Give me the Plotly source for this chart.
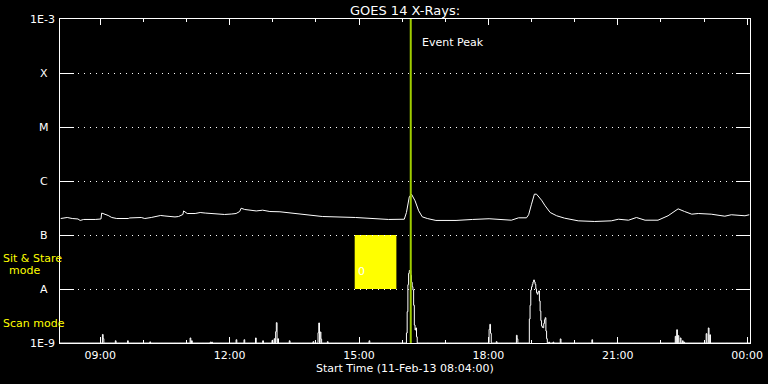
import math
import pandas as pd
import plotly.graph_objects as go

# ---------------- data ----------------
DAY = "2013-02-11"
NEXT_DAY = "2013-02-12"

goes_times = ["08:05", "08:14", "08:21", "08:29", "08:32", "08:37", "08:53", "09:01", "09:02", "09:07",
              "09:11", "09:16", "09:23", "09:39", "09:41", "09:57", "10:02", "10:11", "10:16", "10:24",
              "10:30", "10:38", "10:44", "10:49", "10:55", "10:56", "11:01", "11:12", "11:19", "11:26",
              "11:37", "11:46", "11:53", "12:03", "12:09", "12:14", "12:16", "12:21", "12:28", "12:37",
              "12:46", "12:56", "13:10", "13:24", "13:46", "14:09", "14:55", "15:41", "16:03", "16:06",
              "16:10", "16:13", "16:18", "16:23", "16:28", "16:35", "16:47", "17:15", "17:38", "18:01",
              "18:32", "18:42", "18:53", "18:56", "19:00", "19:04", "19:07", "19:14", "19:19", "19:26",
              "19:35", "19:46", "20:05", "20:28", "20:51", "21:01", "21:15", "21:26", "21:38", "21:56",
              "22:10", "22:19", "22:24", "22:33", "22:43", "22:52", "23:10", "23:29", "23:38", "23:57",
              "00:03"]
goes_flux = [2.02e-7, 2.11e-7, 2.02e-7, 1.98e-7, 1.86e-7, 1.94e-7, 1.94e-7, 1.98e-7, 2.55e-7, 2.45e-7,
             2.30e-7, 2.11e-7, 2.02e-7, 2.02e-7, 2.07e-7, 2.11e-7, 2.02e-7, 2.11e-7, 2.20e-7, 2.30e-7,
             2.25e-7, 2.20e-7, 2.16e-7, 2.20e-7, 2.40e-7, 2.79e-7, 2.50e-7, 2.50e-7, 2.61e-7, 2.55e-7,
             2.50e-7, 2.40e-7, 2.40e-7, 2.45e-7, 2.50e-7, 2.72e-7, 3.13e-7, 2.97e-7, 2.90e-7, 2.79e-7,
             2.88e-7, 2.72e-7, 2.69e-7, 2.58e-7, 2.43e-7, 2.20e-7, 2.11e-7, 1.94e-7, 1.96e-7, 2.61e-7,
             5.10e-7, 5.70e-7, 4.30e-7, 2.81e-7, 2.17e-7, 2.02e-7, 1.86e-7, 1.86e-7, 1.94e-7, 2.00e-7,
             1.88e-7, 2.08e-7, 2.08e-7, 2.37e-7, 3.72e-7, 5.70e-7, 5.70e-7, 4.41e-7, 3.47e-7, 2.61e-7,
             2.27e-7, 2.05e-7, 1.83e-7, 1.78e-7, 1.83e-7, 1.96e-7, 1.88e-7, 2.11e-7, 1.88e-7, 1.88e-7,
             2.27e-7, 2.81e-7, 3.05e-7, 2.72e-7, 2.43e-7, 2.50e-7, 2.43e-7, 2.23e-7, 2.37e-7, 2.27e-7,
             2.37e-7]

scan_times = ["09:03", "09:04", "09:21", "09:38", "10:09", "11:05", "11:07", "11:33", "11:35", "12:09",
              "12:20", "12:36", "12:46", "12:59", "13:02", "13:04", "13:05", "13:07", "13:23", "13:56",
              "14:03", "14:04", "14:06", "14:07", "14:16", "15:14", "16:06", "16:07", "16:08", "16:09",
              "16:10", "16:11", "16:12", "16:13", "16:14", "16:15", "16:16", "16:17", "16:18", "16:19",
              "16:20", "18:01", "18:02", "18:03", "18:11", "18:39", "18:40", "18:57", "18:58", "18:59",
              "19:00", "19:01", "19:02", "19:03", "19:04", "19:05", "19:06", "19:07", "19:08", "19:09",
              "19:10", "19:11", "19:12", "19:13", "19:14", "19:15", "19:16", "19:17", "19:18", "19:19",
              "19:20", "19:21", "19:24", "19:30", "19:40", "20:24", "22:20", "22:22", "22:24", "22:27",
              "22:30", "22:32", "23:03", "23:06", "23:08"]
scan_flux = [1.44e-9, 1.20e-9, 1.10e-9, 1.10e-9, 1.05e-9, 1.24e-9, 1.10e-9, 1.04e-9, 1.04e-9, 1.15e-9,
             1.15e-9, 1.24e-9, 1.10e-9, 1.12e-9, 1.20e-9, 1.62e-9, 2.38e-9, 1.20e-9, 1.10e-9, 1.06e-9,
             1.55e-9, 2.35e-9, 1.60e-9, 1.18e-9, 1.06e-9, 1.10e-9, 1.53e-9, 3.80e-9, 1.20e-8, 1.95e-8,
             2.20e-8, 2.20e-8, 1.80e-8, 1.33e-8, 1.10e-8, 9.60e-9, 5.00e-9, 2.15e-9, 1.74e-9, 1.90e-9,
             1.30e-9, 1.79e-9, 2.22e-9, 1.51e-9, 1.06e-9, 1.39e-9, 1.19e-9, 2.78e-9, 5.00e-9, 9.60e-9,
             1.10e-8, 1.22e-8, 1.35e-8, 1.47e-8, 1.35e-8, 1.22e-8, 1.00e-8, 8.50e-9, 8.00e-9, 8.80e-9,
             9.20e-9, 6.00e-9, 3.90e-9, 2.60e-9, 2.07e-9, 1.95e-9, 1.92e-9, 2.30e-9, 2.70e-9, 2.94e-9,
             1.67e-9, 1.20e-9, 1.04e-9, 1.04e-9, 1.19e-9, 1.15e-9, 1.33e-9, 1.76e-9, 1.37e-9, 1.24e-9,
             1.10e-9, 1.04e-9, 1.49e-9, 1.90e-9, 1.42e-9]
scan_floor = 1e-9

y_tick_vals = [1e-9, 1e-8, 1e-7, 1e-6, 1e-5, 1e-4, 1e-3]
y_tick_text = ["1E-9", "A", "B", "C", "M", "X", "1E-3"]

x_start, x_end = "08:04", "00:04"
event_peak_time = "16:12"
sitstare_times = ["14:54", "15:52"]
sitstare_flux = [1e-8, 1e-7]


def ts(hm):
    h = int(hm[:2])
    d = DAY if h >= 8 else NEXT_DAY
    return pd.Timestamp(f"{d} {hm}")


# ---------------- figure ----------------
WHITE = "#ffffff"
YELLOW = "#ffff00"
GREEN = "#9fcd00"
FONT = "DejaVu Sans"

fig = go.Figure()

# scan-mode trace on a 1-minute grid resting on the floor
grid = pd.date_range(ts(x_start), ts(x_end), freq="1min")
scan = pd.Series(scan_floor, index=grid)
for t, v in zip(scan_times, scan_flux):
    scan[ts(t)] = v
fig.add_trace(go.Scatter(x=scan.index, y=scan.values, mode="lines", line=dict(color=WHITE, width=1, shape="hv"),
                         hoverinfo="skip", showlegend=False))

fig.add_trace(go.Scatter(x=[ts(t) for t in goes_times], y=goes_flux, mode="lines",
                         line=dict(color=WHITE, width=1), showlegend=False))

shapes = [
    dict(type="rect", xref="x", yref="y", x0=ts(sitstare_times[0]), x1=ts(sitstare_times[1]),
         y0=sitstare_flux[0], y1=sitstare_flux[1], fillcolor=YELLOW, line=dict(width=0), layer="below"),
    dict(type="line", xref="x", yref="paper", x0=ts(event_peak_time), x1=ts(event_peak_time),
         y0=0, y1=1, line=dict(color=GREEN, width=2)),
]

ann = []
for v, t in zip(y_tick_vals, y_tick_text):
    if t.startswith("1E"):
        ann.append(dict(x=0, xref="paper", y=math.log10(v), yref="y", text=t, showarrow=False,
                        xanchor="right", yanchor="middle", xshift=-3, font=dict(color=WHITE, size=11, family=FONT)))
    else:
        ann.append(dict(x=0, xref="paper", y=math.log10(v), yref="y", text=t, showarrow=False,
                        xanchor="center", yanchor="middle", xshift=-16, font=dict(color=WHITE, size=11, family=FONT)))

ann += [
    dict(x=0, xref="paper", y=-7.435, yref="y", text="Sit & Stare", showarrow=False, xanchor="left",
         xshift=-59, font=dict(color=YELLOW, size=11, family=FONT)),
    dict(x=0, xref="paper", y=-7.657, yref="y", text="mode", showarrow=False, xanchor="center",
         xshift=-36, font=dict(color=YELLOW, size=11, family=FONT)),
    dict(x=0, xref="paper", y=-8.644, yref="y", text="Scan mode", showarrow=False, xanchor="left",
         xshift=-59, font=dict(color=YELLOW, size=11, family=FONT)),
    dict(x=ts(sitstare_times[0]), xref="x", y=-7.67, yref="y", text="0", showarrow=False, xanchor="left",
         xshift=1, font=dict(color=WHITE, size=11, family=FONT)),
    dict(x=ts(event_peak_time), xref="x", y=-3.43, yref="y", text="Event Peak", showarrow=False,
         xanchor="left", xshift=9, font=dict(color=WHITE, size=11, family=FONT)),
    dict(x=0.5, xref="paper", y=0, yref="paper", text="Start Time (11-Feb-13 08:04:00)", showarrow=False,
         xanchor="center", yanchor="middle", yshift=-25, font=dict(color=WHITE, size=11, family=FONT)),
]

fig.update_layout(
    width=768, height=384, autosize=False,
    margin=dict(l=60, r=18, t=19, b=41, pad=0, autoexpand=False),
    paper_bgcolor="black", plot_bgcolor="black",
    title=dict(text="GOES 14 X-Rays:", x=0.5, xref="paper", xanchor="center", y=1 - 10 / 384,
               yref="container", yanchor="middle", font=dict(color=WHITE, size=13, family=FONT)),
    shapes=shapes, annotations=ann,
    xaxis=dict(type="date", range=[ts(x_start), ts(x_end)], tickformat="%H:%M", automargin=False,
               tick0=pd.Timestamp(f"{DAY} 00:00"), dtick=3 * 3600000,
               ticks="inside", ticklen=6, tickwidth=1, tickcolor=WHITE, ticklabelstandoff=2,
               minor=dict(dtick=3600000, ticks="inside", ticklen=3, tickcolor=WHITE, showgrid=False),
               showline=True, linecolor=WHITE, linewidth=1, mirror="ticks", showgrid=False, zeroline=False,
               tickfont=dict(color=WHITE, size=11, family=FONT)),
    yaxis=dict(type="log", range=[-9, -3], tickvals=y_tick_vals, showticklabels=False, automargin=False,
               ticks="inside", ticklen=14, tickwidth=1, tickcolor=WHITE,
               showline=True, linecolor=WHITE, linewidth=1, mirror="ticks",
               showgrid=True, gridcolor=WHITE, gridwidth=1, griddash="1px,5px", zeroline=False),
)

fig.write_html("out.html")
